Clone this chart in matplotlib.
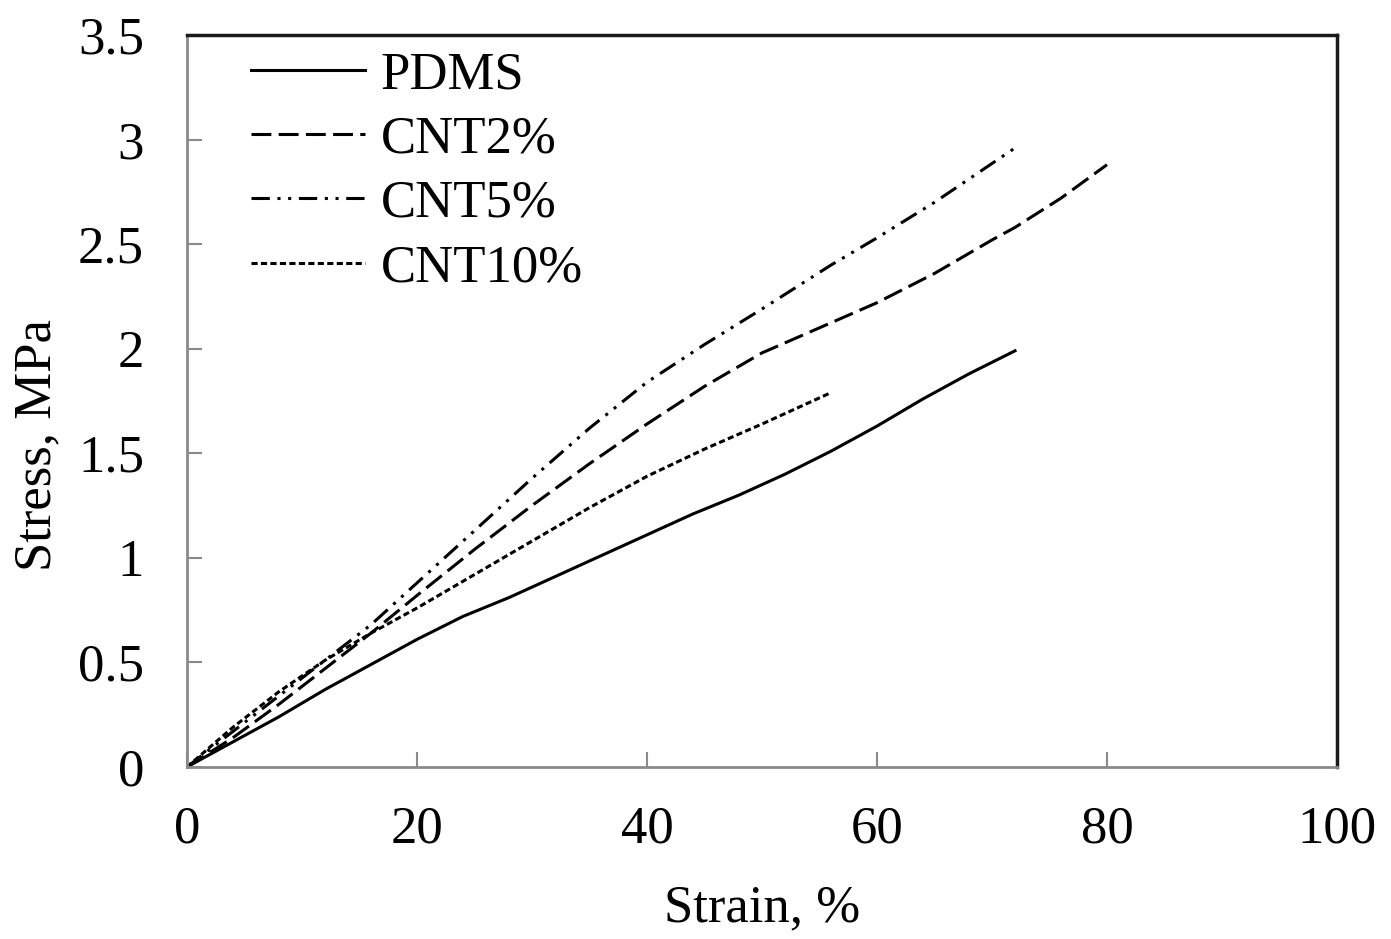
import matplotlib

matplotlib.use("Agg")
import matplotlib.pyplot as plt

# strain (%) / stress (MPa)
PDMS_STRAIN = [0, 4, 8, 12, 16, 20, 24, 28, 32, 36, 40, 44, 48, 52, 56, 60, 64, 68, 72]
PDMS_STRESS = [0, 0.12, 0.24, 0.37, 0.49, 0.61, 0.72, 0.81, 0.91, 1.01, 1.11, 1.21,
               1.30, 1.40, 1.51, 1.63, 1.76, 1.88, 1.99]

CNT2_STRAIN = [0, 4, 8, 12, 16, 20, 25, 30, 35, 40, 45, 50, 55, 60, 65, 70, 72, 76, 80]
CNT2_STRESS = [0, 0.14, 0.30, 0.47, 0.64, 0.82, 1.04, 1.25, 1.45, 1.64, 1.82, 1.98,
               2.10, 2.22, 2.36, 2.52, 2.58, 2.72, 2.88]

CNT5_STRAIN = [0, 4, 8, 12, 16, 20, 25, 30, 35, 40, 45, 50, 56, 60, 65, 72]
CNT5_STRESS = [0, 0.17, 0.34, 0.51, 0.68, 0.88, 1.13, 1.38, 1.62, 1.84, 2.02, 2.19,
               2.40, 2.53, 2.70, 2.96]

CNT10_STRAIN = [0, 4, 8, 12, 16, 20, 25, 30, 35, 40, 45, 50, 56]
CNT10_STRESS = [0, 0.19, 0.36, 0.51, 0.64, 0.76, 0.92, 1.08, 1.24, 1.39, 1.52, 1.64, 1.79]

# dash patterns in units of line width (matplotlib scales them by lw)
SERIES = [
    ("PDMS", PDMS_STRAIN, PDMS_STRESS, None),
    ("CNT2%", CNT2_STRAIN, CNT2_STRESS, (6.5, 2.4)),
    ("CNT5%", CNT5_STRAIN, CNT5_STRESS, (6, 2.5, 1, 2.5, 1, 2.5)),
    ("CNT10%", CNT10_STRAIN, CNT10_STRESS, (2, 1.1)),
]

X_TICKS = [0, 20, 40, 60, 80, 100]
Y_TICKS = [0, 0.5, 1, 1.5, 2, 2.5, 3, 3.5]
Y_TICK_LABELS = ["0", "0.5", "1", "1.5", "2", "2.5", "3", "3.5"]

plt.rcParams["font.family"] = ["Liberation Serif", "DejaVu Serif"]
FS = 38

fig = plt.figure(figsize=(13.91, 9.39), dpi=100)
ax = fig.add_axes([0.1344, 0.1832, 0.8268, 0.7795])

for label, xs, ys, dashes in SERIES:
    line, = ax.plot(xs, ys, color="black", linewidth=2.2, label=label,
                    solid_joinstyle="round")
    if dashes is not None:
        line.set_dashes(dashes)
        line.set_dash_capstyle("butt")

ax.set_xlim(0, 100)
ax.set_ylim(0, 3.5)
ax.set_xticks(X_TICKS)
ax.set_yticks(Y_TICKS)
ax.set_yticklabels(Y_TICK_LABELS)
ax.tick_params(direction="in", length=11, width=1.5, color="#8a8a8a",
               labelsize=FS)
ax.tick_params(axis="y", pad=31)
ax.tick_params(axis="x", pad=28)

for side in ("left", "bottom"):
    ax.spines[side].set_color("#8a8a8a")
    ax.spines[side].set_linewidth(2)
for side in ("top", "right"):
    ax.spines[side].set_color("#1a1a1a")
    ax.spines[side].set_linewidth(2.5)

ax.set_xlabel("Strain, %", fontsize=FS, labelpad=22)
ax.set_ylabel("Stress, MPa", fontsize=FS)
ax.yaxis.set_label_coords(-0.109, 0.44)

ax.legend(loc="upper left", bbox_to_anchor=(0.056, 0.978), frameon=False,
          fontsize=FS, handlelength=2.15, handletextpad=0.3,
          labelspacing=0.31, borderaxespad=0, borderpad=0)

fig.savefig("out.png", dpi=100, facecolor="white")
